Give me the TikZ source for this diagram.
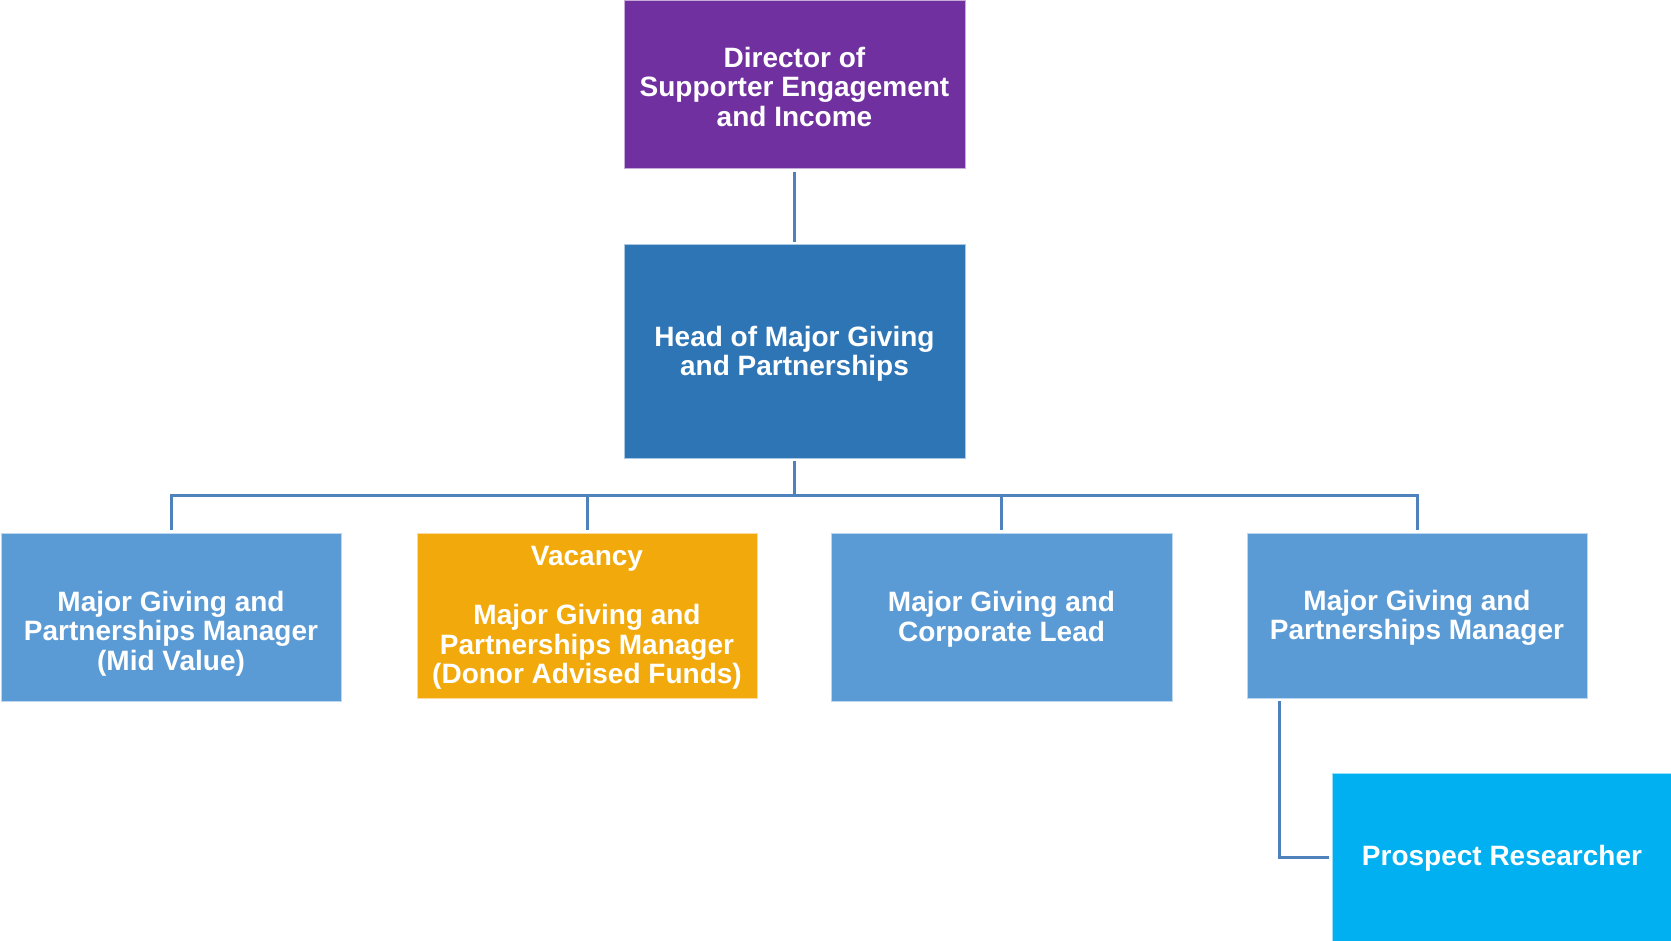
\documentclass[tikz,border=0pt]{standalone}
\usepackage{fontspec}
\setmainfont{Liberation Sans}
\definecolor{cdir}{HTML}{7030A0}
\definecolor{chead}{HTML}{2E75B6}
\definecolor{cmgr}{HTML}{5B9BD5}
\definecolor{cvac}{HTML}{F2A90B}
\definecolor{cres}{HTML}{00B0F0}
\definecolor{cline}{HTML}{4F81BD}
\begin{document}
\begin{tikzpicture}[x=1pt,y=-1pt,
  box/.style={rectangle, draw=white!60!#1, line width=1pt, fill=#1, outer sep=3pt},
  lbl/.style={text=white, font=\bfseries\fontsize{28}{29.5}\selectfont, align=center, inner sep=0pt},
  conn/.style={draw=cline, line width=3pt}]
\useasboundingbox (0,0) rectangle (1671,941);

\node[box=cdir, minimum width=341pt, minimum height=168pt,
  label={[lbl, name=dirt, yshift=-1.5pt]center:{Director of\\Supporter Engagement\\and Income}}] (dir) at (794.5,85) {};
\node[box=chead, minimum width=341pt, minimum height=213pt,
  label={[lbl, name=headt, yshift=-2.5pt]center:{Head of Major Giving\\and Partnerships}}] (head) at (794.5,351.5) {};
\node[box=cmgr, minimum width=340pt, minimum height=168pt,
  label={[lbl, name=b1t, yshift=-16.5pt]center:{Major Giving and\\Partnerships Manager\\(Mid Value)}}] (b1) at (171,617) {};
\node[box=cvac, minimum width=340pt, minimum height=165pt,
  label={[lbl, name=b2t, yshift=-2.5pt]center:{Vacancy\\[29.5pt]Major Giving and\\Partnerships Manager\\(Donor Advised Funds)}}] (b2) at (587,615.5) {};
\node[box=cmgr, minimum width=341pt, minimum height=168pt,
  label={[lbl, name=b3t, yshift=-2.5pt]center:{Major Giving and\\Corporate Lead}}] (b3) at (1001.5,617) {};
\node[box=cmgr, minimum width=340pt, minimum height=165pt,
  label={[lbl, name=b4t, yshift=-2.5pt]center:{Major Giving and\\Partnerships Manager}}] (b4) at (1417,615.5) {};
\node[box=cres, minimum width=340pt, minimum height=168pt,
  label={[lbl, name=prt, yshift=-1.5pt]center:{Prospect Researcher}}] (pr) at (1502,857) {};

\coordinate (bus) at (794.5,495);
\draw[conn] (dir) -- (head);
\draw[conn] (head) -- (bus);
\draw[conn] (bus) -| (b1);
\draw[conn] (bus) -| (b2);
\draw[conn] (bus) -| (b3);
\draw[conn] (bus) -| (b4);
\draw[conn] (b4.south west) ++(35,0) |- (pr.west);
\end{tikzpicture}
\end{document}
